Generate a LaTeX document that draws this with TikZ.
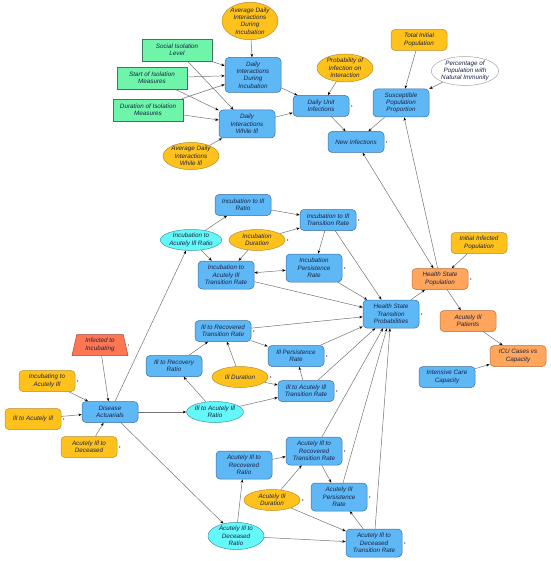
\documentclass[tikz,border=0pt]{standalone}
\usepackage{fontspec}
\setmainfont{Liberation Sans}
\usetikzlibrary{arrows.meta, shapes.geometric}
\definecolor{varblue}{RGB}{94,184,245}
\definecolor{varedge}{RGB}{60,110,160}
\definecolor{inyellow}{RGB}{255,194,28}
\definecolor{inedge}{RGB}{185,140,40}
\definecolor{isogreen}{RGB}{110,245,170}
\definecolor{isoedge}{RGB}{60,120,90}
\definecolor{ratiocyan}{RGB}{100,248,248}
\definecolor{ratioedge}{RGB}{60,150,170}
\definecolor{stockorange}{RGB}{255,166,92}
\definecolor{stockedge}{RGB}{180,110,60}
\definecolor{trapred}{RGB}{255,118,82}
\definecolor{trapedge}{RGB}{170,70,50}
\definecolor{labelnavy}{RGB}{25,35,70}

\begin{document}
\begin{tikzpicture}[x=1pt, y=-1pt, ->, >={Stealth[length=3.5pt,width=2.6pt,color=black]},
    every edge/.style={draw=black!55, line width=0.5pt},
    base/.style={font=\fontsize{6.3}{7.3}\selectfont\itshape, text=labelnavy, align=center,
      inner sep=1pt, line width=0.5pt, minimum width=56pt, minimum height=21pt},
    varbox/.style={base, rounded corners=4pt, fill=varblue, draw=varedge},
    inbox/.style={base, rounded corners=4pt, fill=inyellow, draw=inedge},
    stockbox/.style={base, rounded corners=4pt, fill=stockorange, draw=stockedge},
    isobox/.style={base, fill=isogreen, draw=isoedge, minimum width=70pt, minimum height=22pt},
    inell/.style={base, ellipse, inner sep=0pt, fill=inyellow, draw=inedge},
    ratioell/.style={base, ellipse, inner sep=0pt, fill=ratiocyan, draw=ratioedge},
    whiteell/.style={base, ellipse, inner sep=0pt, fill=white, draw=black!35,
      minimum width=64pt, minimum height=28pt},
    trapbox/.style={base, trapezium, trapezium left angle=78, trapezium right angle=78,
      trapezium stretches=true, fill=trapred, draw=trapedge},
    tall/.style={minimum height=28pt}]
  \useasboundingbox (0,0) rectangle (550,561);

  % interactions
  \node[inell, minimum height=35pt] (avgincub) at (250,21) {Average Daily\\Interactions\\During\\Incubation};
  \node[isobox] (social) at (177,50) {Social Isolation\\Level};
  \node[isobox] (start) at (152,78) {Start of Isolation\\Measures};
  \node[isobox] (duration) at (148,110) {Duration of Isolation\\Measures};
  \node[varbox, minimum height=35pt] (intincub) at (253,75) {Daily\\Interactions\\During\\Incubation};
  \node[varbox, tall] (intill) at (247,124) {Daily\\Interactions\\While Ill};
  \node[inell, minimum height=27pt] (avgill) at (191,156) {Average Daily\\Interactions\\While Ill};
  \node[inell, tall] (prob) at (345,68) {Probability of\\Infection on\\Interaction};
  \node[varbox] (unitinf) at (321,106) {Daily Unit\\Infections};
  \node[inbox] (totalpop) at (419,40) {Total Initial\\Population};
  \node[whiteell] (immunity) at (465,71) {Percentage of\\Population with\\Natural Immunity};
  \node[varbox, tall] (suscept) at (401,103) {Susceptible\\Population\\Proportion};
  \node[varbox] (newinf) at (356,142) {New Infections};

  % incubation
  \node[varbox] (incillratio) at (243,205) {Incubation to Ill\\Ratio};
  \node[varbox] (incillrate) at (328,220) {Incubation to Ill\\Transition Rate};
  \node[ratioell] (incacuteratio) at (191,240) {Incubation to\\Acutely Ill Ratio};
  \node[inell] (incdur) at (257,240) {Incubation\\Duration};
  \node[varbox, tall] (incacuterate) at (226,275) {Incubation to\\Acutely Ill\\Transition Rate};
  \node[varbox, tall] (incpersist) at (314,268) {Incubation\\Persistence\\Rate};
  \node[varbox, tall] (hstp) at (391,314) {Health State\\Transition\\Probabilities};

  % population
  \node[inbox] (initinf) at (479,243) {Initial Infected\\Population};
  \node[stockbox] (hsp) at (440,279) {Health State\\Population};
  \node[stockbox] (acutepat) at (468,321) {Acutely Ill\\Patients};
  \node[stockbox] (icu) at (518,356) {ICU Cases vs\\Capacity};
  \node[varbox] (icucap) at (447,377) {Intensive Care\\Capacity};

  % actuarials
  \node[trapbox] (infinc) at (100,345) {Infected to\\Incubating};
  \node[inbox] (incubacute) at (47,381) {Incubating to\\Acutely Ill};
  \node[inbox] (illacute) at (33,419) {Ill to Acutely Ill};
  \node[varbox] (actuarials) at (110,412) {Disease\\Actuarials};
  \node[inbox] (acutedec) at (89,447) {Acutely Ill to\\Deceased};

  % ill
  \node[varbox] (illrecratio) at (174,366) {Ill to Recovery\\Ratio};
  \node[varbox] (illrecrate) at (223,331) {Ill to Recovered\\Transition Rate};
  \node[inell] (illdur) at (240,377) {Ill Duration};
  \node[ratioell] (illacuteratio) at (215,412) {Ill to Acutely Ill\\Ratio};
  \node[varbox] (illpersist) at (296,356) {Ill Persistence\\Rate};
  \node[varbox] (illacuterate) at (306,391) {Ill to Acutely Ill\\Transition Rate};

  % acutely ill
  \node[varbox, tall] (acrecrate) at (314,451) {Acutely Ill to\\Recovered\\Transition Rate};
  \node[varbox, tall] (acrecratio) at (244,465) {Acutely Ill to\\Recovered\\Ratio};
  \node[inell] (acdur) at (272,500) {Acutely Ill\\Duration};
  \node[varbox, tall] (acpersist) at (339,497) {Acutely Ill\\Persistence\\Rate};
  \node[ratioell, minimum height=27pt] (acdecratio) at (236,536) {Acutely Ill to\\Deceased\\Ratio};
  \node[varbox, tall] (acdecrate) at (374,543) {Acutely Ill to\\Deceased\\Transition Rate};

  \foreach \n in {unitinf, newinf, incdur, incillrate, incpersist, hstp, hsp, infinc,
      incubacute, illacute, acutedec, illrecrate, illdur, illpersist, illacuterate,
      acrecrate, acdur, acpersist, acdecrate}
    \fill ([xshift=2.5pt]\n.east) circle (0.6pt);

  \path (avgincub) edge (intincub)
    (social) edge (intincub) (social) edge (intill)
    (start) edge (intincub) (start) edge (intill)
    (duration) edge (intincub) (duration) edge (intill)
    (avgill) edge (intill)
    (intincub) edge (unitinf) (intill) edge (unitinf)
    (prob) edge (unitinf)
    (unitinf) edge (newinf)
    (totalpop) edge (suscept) (immunity) edge (suscept)
    (suscept) edge (newinf)
    (newinf) edge[<->] (hsp)
    (hsp) edge (suscept)
    (initinf) edge (hsp)
    (hstp) edge (hsp)
    (hsp) edge (acutepat)
    (acutepat) edge (icu) (icucap) edge (icu);

  \path (actuarials) edge (incacuteratio)
    (incacuteratio) edge (incillratio) (incacuteratio) edge (incacuterate)
    (incillratio) edge (incillrate)
    (incdur) edge (incillrate) (incdur) edge (incacuterate)
    (incillrate) edge (incpersist)
    (incacuterate) edge[<->] (incpersist)
    (incillrate) edge (hstp) (incpersist) edge (hstp) (incacuterate) edge (hstp);

  \path (infinc) edge (actuarials) (incubacute) edge (actuarials)
    (illacute) edge (actuarials) (acutedec) edge (actuarials)
    (actuarials) edge (illacuteratio)
    (illacuteratio) edge (illrecratio) (illacuteratio) edge (illacuterate)
    (illrecratio) edge (illrecrate)
    (illdur) edge (illrecrate) (illdur) edge (illacuterate)
    (illrecrate) edge (illpersist) (illacuterate) edge (illpersist)
    (illrecrate) edge (hstp) (illpersist) edge (hstp) (illacuterate) edge (hstp);

  \path (actuarials) edge (acdecratio)
    (acdecratio) edge (acrecratio) (acdecratio) edge (acdecrate)
    (acrecratio) edge (acrecrate)
    (acdur) edge (acrecrate) (acdur) edge (acdecrate)
    (acrecrate) edge (acpersist) (acdecrate) edge (acpersist)
    (acrecrate) edge (hstp) (acpersist) edge (hstp) (acdecrate) edge (hstp);
\end{tikzpicture}
\end{document}
